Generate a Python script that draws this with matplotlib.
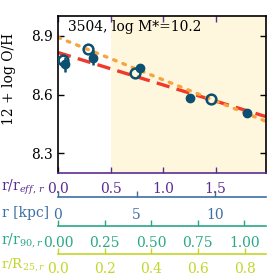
import matplotlib
matplotlib.use("Agg")
import matplotlib.pyplot as plt
import numpy as np

plt.rcParams['font.family'] = ['DejaVu Serif']
plt.rcParams['mathtext.fontset'] = 'dejavuserif'

# data (x in r/r_eff)
open_x = [0.048, 0.286, 0.733, 1.457]
open_y = [8.778, 8.834, 8.712, 8.575]
fill_x = [0.067, 0.333, 0.781, 1.257, 1.800]
fill_y = [8.753, 8.788, 8.737, 8.580, 8.508]
fill_err = [0.04, 0.04, 0.02, 0.02, 0.01]
red_fit = [8.814, -0.165]     # intercept, slope
orange_fit = [8.891, -0.216]
r_eff_kpc = 6.69
r90_in_reff = 1.775
r25_in_reff = 2.22
title = "3504, log M*=10.2"

W = 277
fig = plt.figure(figsize=(2.77, 2.77), dpi=100)
L, R, T, B = 58, 266, 16, 173
ax = fig.add_axes([L / W, 1 - B / W, (R - L) / W, (B - T) / W])
xmax = 1.98
ax.set_xlim(0, xmax)
ax.set_ylim(8.2, 9.0)
ax.axvspan(0.5, xmax, color='#fef7de', zorder=0, lw=0)

xx = np.array([0, xmax])
ax.plot(xx, red_fit[0] + red_fit[1] * xx, color='#f0392b', ls=(0, (4, 2.2)), lw=2.4, zorder=2)
ax.plot(xx, orange_fit[0] + orange_fit[1] * xx, color='#f7a43e', ls=(0, (0.8, 2.2)), lw=2.4,
        dash_capstyle='round', zorder=2)

pc = '#0b4f71'
ax.errorbar(fill_x, fill_y, yerr=fill_err, fmt='o', color=pc, ms=6, elinewidth=1.8, capsize=0, zorder=4)
ax.plot(open_x, open_y, 'o', mfc='none', mec=pc, mew=1.8, ms=7, zorder=5)

ax.set_yticks([8.3, 8.6, 8.9])
ax.set_xticks([0.0, 0.5, 1.0, 1.5])
ax.set_xticklabels(['0.0', '0.5', '1.0', '1.5'])
ax.tick_params(direction='in', top=True, right=True, labelsize=10, length=4, width=1)
ax.tick_params(axis='x', colors='#5c2d91', pad=6.5)
ax.tick_params(axis='y', colors='black')
for s in ['top', 'left', 'right']:
    ax.spines[s].set_color('black')
    ax.spines[s].set_linewidth(1.2)
ax.spines['bottom'].set_color('#5c2d91')
ax.spines['bottom'].set_linewidth(1.2)
ax.set_ylabel('12 + log O/H', fontsize=10)
ax.yaxis.set_label_coords(-0.2, 0.6)
ax.text(0.05, 0.93, title, transform=ax.transAxes, fontsize=10, ha='left', va='center')

h = B - T
def add_sec(offset_px, fwd, inv, ticks, labels, color, pad):
    sec = ax.secondary_xaxis(-offset_px / h, functions=(fwd, inv))
    sec.set_xticks(ticks)
    sec.set_xticklabels(labels)
    sec.tick_params(direction='in', colors=color, labelsize=10, length=4, width=1, pad=pad)
    sec.spines['bottom'].set_color(color)
    sec.spines['bottom'].set_linewidth(1.2)
    return sec

add_sec(24, lambda x: x * r_eff_kpc, lambda x: x / r_eff_kpc, [0, 5, 10], ['0', '5', '10'], '#3c6fa3', 8)
add_sec(53, lambda x: x / r90_in_reff, lambda x: x * r90_in_reff, [0, 0.25, 0.5, 0.75, 1.0],
        ['0.00', '0.25', '0.50', '0.75', '1.00'], '#2aa886', 7)
add_sec(81, lambda x: x / r25_in_reff, lambda x: x * r25_in_reff, [0, 0.2, 0.4, 0.6, 0.8],
        ['0.0', '0.2', '0.4', '0.6', '0.8'], '#c3d62c', 6)

def flabel(txt, xr, yc, color, fs=10):
    fig.text(xr / W, 1 - yc / W, txt, ha='right', va='center', fontsize=fs, color=color)

flabel(r'r/r$_{eff,\,r}$', 46, 187, '#5c2d91')
flabel('r [kpc]', 49, 213, '#3c6fa3')
flabel(r'r/r$_{90,r}$', 44, 241, '#2aa886')
flabel(r'r/R$_{25,r}$', 46, 265, '#c3d62c', 9.6)

fig.savefig('out.png', dpi=100)
